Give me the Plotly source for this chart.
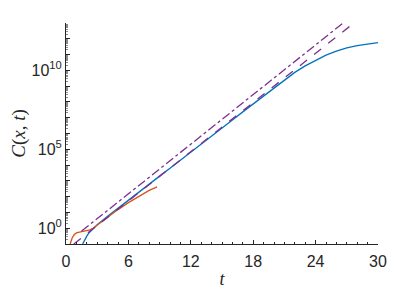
import numpy as np
import plotly.graph_objects as go

# Blue solid curve (log10 of C)
blue_t = [1.6, 1.8, 2.0, 2.2, 2.5, 2.8, 3, 4, 5, 6, 7, 8, 9, 10, 11, 12, 13, 14, 15, 16,
          17, 18, 19, 20, 21, 22, 23, 24, 25, 26, 27, 28, 29, 30]
blue_log = [-1.0, -0.72, -0.5, -0.3, -0.08, 0.1, 0.22, 0.75, 1.27, 1.78, 2.28, 2.8, 3.3, 3.8,
            4.32, 4.83, 5.33, 5.84, 6.35, 6.86, 7.37, 7.88, 8.39, 8.9, 9.4, 9.87, 10.28, 10.64,
            10.96, 11.22, 11.42, 11.57, 11.68, 11.76]

# Orange solid curve
orange_t = [0.4, 0.5, 0.6, 0.8, 1.0, 1.4, 1.8, 2.3, 2.6, 3.0, 4, 5, 6, 7, 7.5, 8, 8.76]
orange_log = [-1.0, -0.78, -0.6, -0.4, -0.3, -0.23, -0.17, -0.1, 0.0, 0.2, 0.7, 1.18, 1.62,
              2.03, 2.24, 2.4, 2.62]

# Purple dashed asymptote
dash_t = [0.75, 27.5]
dash_log = [-1.0, 12.9]

# Purple dash-dot asymptote
dashdot_t = [1.5, 26.65]
dashdot_log = [-0.18, 13.0]

x_ticks = [0, 6, 12, 18, 24, 30]
y_decades = list(range(-1, 14))
y_label_exps = [0, 5, 10]

fig = go.Figure()
fig.add_trace(go.Scatter(x=blue_t, y=[10 ** v for v in blue_log], mode="lines",
                         line=dict(color="#0072BD", width=1.3), showlegend=False))
fig.add_trace(go.Scatter(x=orange_t, y=[10 ** v for v in orange_log], mode="lines",
                         line=dict(color="#D95319", width=1.3), showlegend=False))
fig.add_trace(go.Scatter(x=dash_t, y=[10 ** v for v in dash_log], mode="lines",
                         line=dict(color="#7E2F8E", width=1.3, dash="dash"), showlegend=False))
fig.add_trace(go.Scatter(x=dashdot_t, y=[10 ** v for v in dashdot_log], mode="lines",
                         line=dict(color="#7E2F8E", width=1.3, dash="dashdot"), showlegend=False))
# invisible helper trace so the decade-tick axis is drawn
fig.add_trace(go.Scatter(x=[None], y=[None], yaxis="y2", showlegend=False, hoverinfo="skip"))

axcol = "#262626"
fig.update_layout(
    width=410, height=287,
    margin=dict(l=58, r=40, t=15, b=51),
    paper_bgcolor="white", plot_bgcolor="white",
    font=dict(family="Liberation Sans, Arial", size=16, color=axcol),
    xaxis=dict(
        range=[0, 30], tickvals=x_ticks, ticktext=[str(v) for v in x_ticks],
        showgrid=False, zeroline=False, showline=True, linecolor=axcol, linewidth=1,
        ticks="inside", ticklen=4, tickcolor=axcol, automargin=False,
        ticklabelstandoff=3,
        minor=dict(dtick=1, ticks="inside", ticklen=2.5, tickcolor=axcol, showgrid=False),
        tickfont=dict(size=16),
        title=dict(text="<i>t</i>", font=dict(family="Liberation Serif, Times New Roman", size=18),
                   standoff=3),
    ),
    yaxis=dict(
        type="log", range=[-1, 13],
        tickvals=[10 ** e for e in y_label_exps],
        ticktext=["10<sup>%d</sup>" % e for e in y_label_exps],
        showgrid=False, zeroline=False, showline=True, linecolor=axcol, linewidth=1,
        ticks="inside", ticklen=4, tickcolor=axcol, automargin=False,
        minor=dict(dtick="D1", ticks="inside", ticklen=2, tickcolor="#8a8a8a", showgrid=False),
        tickfont=dict(size=16),
        title=dict(text="<i>C</i>(<i>x</i>, <i>t</i>)",
                   font=dict(family="Liberation Serif, Times New Roman", size=19), standoff=18),
    ),
    yaxis2=dict(
        type="log", range=[-1, 13], overlaying="y", side="left", anchor="x",
        tickvals=[10 ** e for e in y_decades], showticklabels=False,
        ticks="inside", ticklen=4, tickcolor=axcol, showgrid=False, zeroline=False,
        showline=False, automargin=False,
    ),
)

fig.write_html("out.html")
